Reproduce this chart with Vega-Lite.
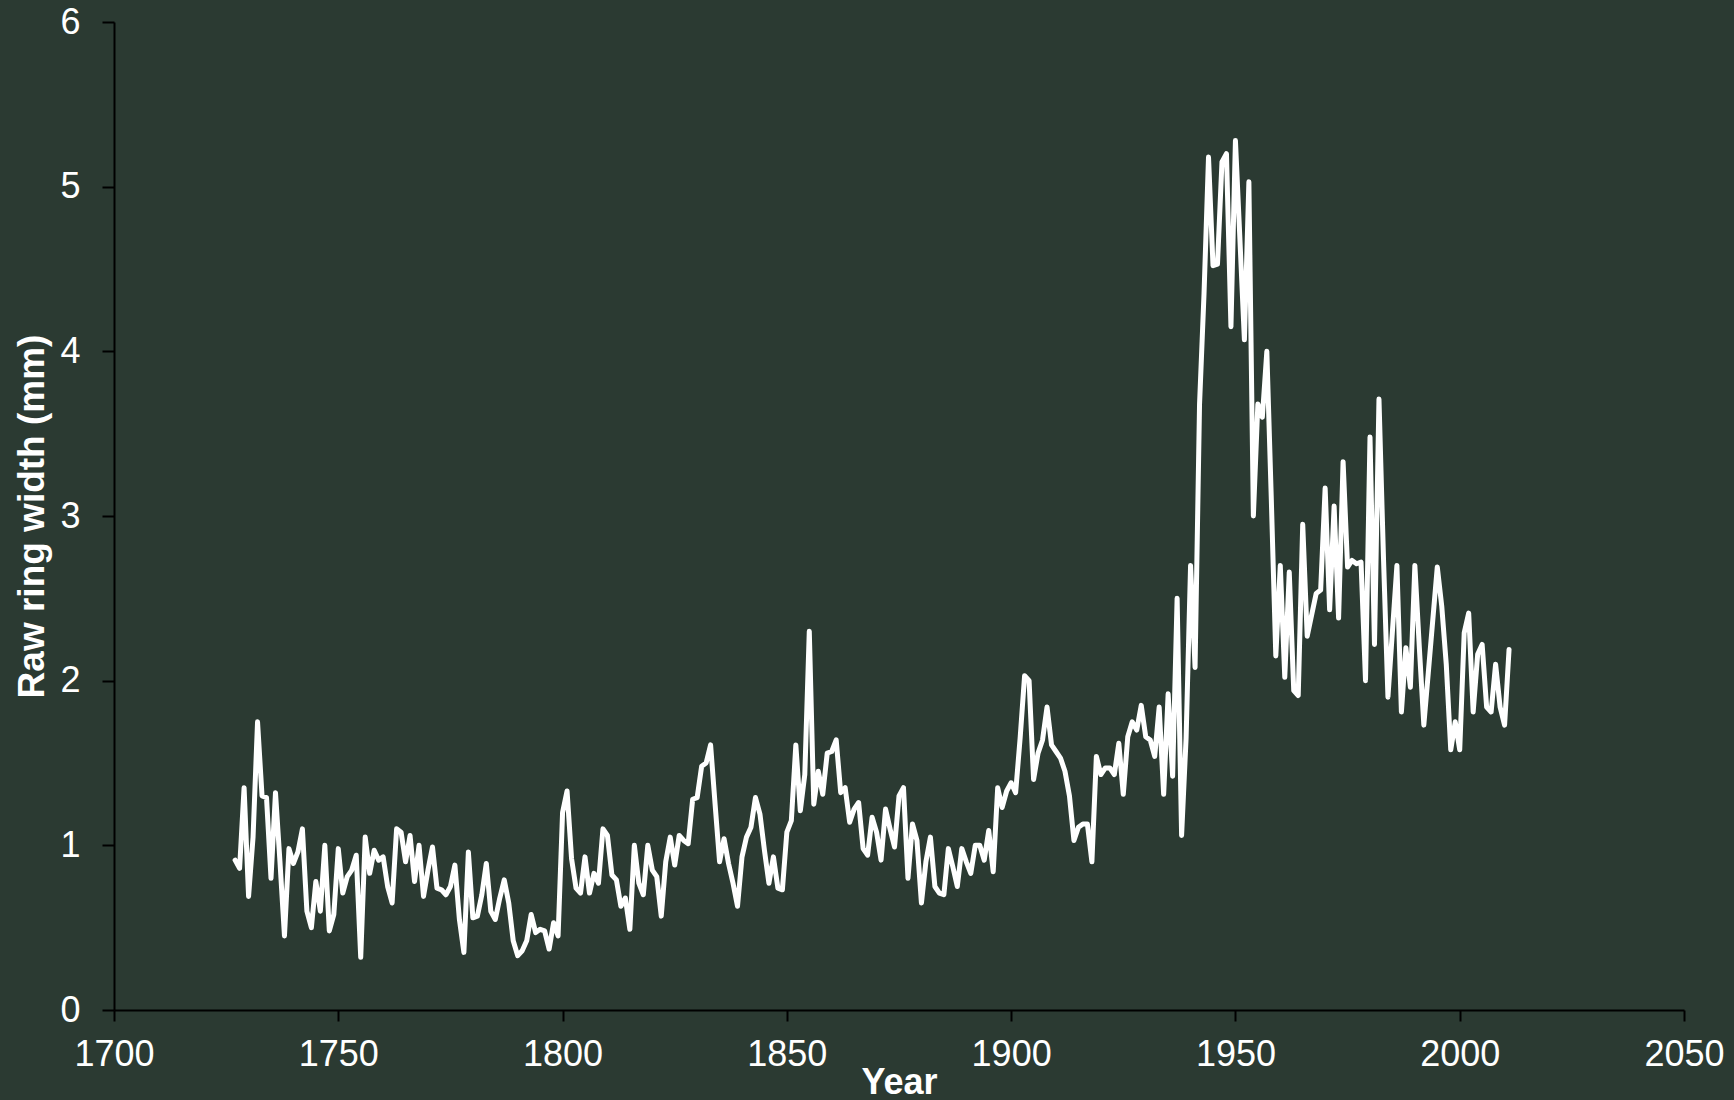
{
  "$schema": "https://vega.github.io/schema/vega-lite/v6.json",
  "width": 1570,
  "height": 988,
  "autosize": {"type": "none"},
  "padding": {"left": 114, "top": 22, "right": 50, "bottom": 90},
  "background": "#2b3a32",
  "config": {
    "view": {"stroke": null},
    "font": "Liberation Sans",
    "axis": {
      "grid": false,
      "domainColor": "#000000",
      "domainWidth": 2,
      "tickColor": "#000000",
      "tickWidth": 2,
      "labelColor": "#ffffff",
      "titleColor": "#ffffff",
      "labelFont": "Liberation Sans",
      "titleFont": "Liberation Sans",
      "labelFontSize": 36,
      "titleFontSize": 36,
      "titleFontWeight": "bold"
    }
  },
  "data": {
    "values": [
      {"Year": 1727, "RingWidth": 0.91}, {"Year": 1728, "RingWidth": 0.86}, {"Year": 1729, "RingWidth": 1.35}, {"Year": 1730, "RingWidth": 0.69},
      {"Year": 1731, "RingWidth": 1.05}, {"Year": 1732, "RingWidth": 1.75}, {"Year": 1733, "RingWidth": 1.30}, {"Year": 1734, "RingWidth": 1.29},
      {"Year": 1735, "RingWidth": 0.80}, {"Year": 1736, "RingWidth": 1.32}, {"Year": 1737, "RingWidth": 0.90}, {"Year": 1738, "RingWidth": 0.45},
      {"Year": 1739, "RingWidth": 0.98}, {"Year": 1740, "RingWidth": 0.89}, {"Year": 1741, "RingWidth": 0.96}, {"Year": 1742, "RingWidth": 1.10},
      {"Year": 1743, "RingWidth": 0.60}, {"Year": 1744, "RingWidth": 0.50}, {"Year": 1745, "RingWidth": 0.78}, {"Year": 1746, "RingWidth": 0.60},
      {"Year": 1747, "RingWidth": 1.00}, {"Year": 1748, "RingWidth": 0.48}, {"Year": 1749, "RingWidth": 0.58}, {"Year": 1750, "RingWidth": 0.98},
      {"Year": 1751, "RingWidth": 0.71}, {"Year": 1752, "RingWidth": 0.81}, {"Year": 1753, "RingWidth": 0.85}, {"Year": 1754, "RingWidth": 0.94},
      {"Year": 1755, "RingWidth": 0.32}, {"Year": 1756, "RingWidth": 1.05}, {"Year": 1757, "RingWidth": 0.83}, {"Year": 1758, "RingWidth": 0.97},
      {"Year": 1759, "RingWidth": 0.91}, {"Year": 1760, "RingWidth": 0.93}, {"Year": 1761, "RingWidth": 0.75}, {"Year": 1762, "RingWidth": 0.65},
      {"Year": 1763, "RingWidth": 1.10}, {"Year": 1764, "RingWidth": 1.08}, {"Year": 1765, "RingWidth": 0.90}, {"Year": 1766, "RingWidth": 1.06},
      {"Year": 1767, "RingWidth": 0.78}, {"Year": 1768, "RingWidth": 1.00}, {"Year": 1769, "RingWidth": 0.69}, {"Year": 1770, "RingWidth": 0.85},
      {"Year": 1771, "RingWidth": 0.99}, {"Year": 1772, "RingWidth": 0.74}, {"Year": 1773, "RingWidth": 0.73}, {"Year": 1774, "RingWidth": 0.70},
      {"Year": 1775, "RingWidth": 0.75}, {"Year": 1776, "RingWidth": 0.88}, {"Year": 1777, "RingWidth": 0.55}, {"Year": 1778, "RingWidth": 0.35},
      {"Year": 1779, "RingWidth": 0.96}, {"Year": 1780, "RingWidth": 0.56}, {"Year": 1781, "RingWidth": 0.57}, {"Year": 1782, "RingWidth": 0.70},
      {"Year": 1783, "RingWidth": 0.89}, {"Year": 1784, "RingWidth": 0.60}, {"Year": 1785, "RingWidth": 0.55}, {"Year": 1786, "RingWidth": 0.68},
      {"Year": 1787, "RingWidth": 0.79}, {"Year": 1788, "RingWidth": 0.65}, {"Year": 1789, "RingWidth": 0.42}, {"Year": 1790, "RingWidth": 0.33},
      {"Year": 1791, "RingWidth": 0.36}, {"Year": 1792, "RingWidth": 0.42}, {"Year": 1793, "RingWidth": 0.58}, {"Year": 1794, "RingWidth": 0.47},
      {"Year": 1795, "RingWidth": 0.49}, {"Year": 1796, "RingWidth": 0.48}, {"Year": 1797, "RingWidth": 0.37}, {"Year": 1798, "RingWidth": 0.53},
      {"Year": 1799, "RingWidth": 0.45}, {"Year": 1800, "RingWidth": 1.20}, {"Year": 1801, "RingWidth": 1.33}, {"Year": 1802, "RingWidth": 0.92},
      {"Year": 1803, "RingWidth": 0.74}, {"Year": 1804, "RingWidth": 0.71}, {"Year": 1805, "RingWidth": 0.93}, {"Year": 1806, "RingWidth": 0.71},
      {"Year": 1807, "RingWidth": 0.83}, {"Year": 1808, "RingWidth": 0.77}, {"Year": 1809, "RingWidth": 1.10}, {"Year": 1810, "RingWidth": 1.06},
      {"Year": 1811, "RingWidth": 0.82}, {"Year": 1812, "RingWidth": 0.79}, {"Year": 1813, "RingWidth": 0.63}, {"Year": 1814, "RingWidth": 0.68},
      {"Year": 1815, "RingWidth": 0.49}, {"Year": 1816, "RingWidth": 1.00}, {"Year": 1817, "RingWidth": 0.77}, {"Year": 1818, "RingWidth": 0.70},
      {"Year": 1819, "RingWidth": 1.00}, {"Year": 1820, "RingWidth": 0.85}, {"Year": 1821, "RingWidth": 0.81}, {"Year": 1822, "RingWidth": 0.57},
      {"Year": 1823, "RingWidth": 0.90}, {"Year": 1824, "RingWidth": 1.05}, {"Year": 1825, "RingWidth": 0.88}, {"Year": 1826, "RingWidth": 1.06},
      {"Year": 1827, "RingWidth": 1.03}, {"Year": 1828, "RingWidth": 1.01}, {"Year": 1829, "RingWidth": 1.28}, {"Year": 1830, "RingWidth": 1.29},
      {"Year": 1831, "RingWidth": 1.48}, {"Year": 1832, "RingWidth": 1.50}, {"Year": 1833, "RingWidth": 1.61}, {"Year": 1834, "RingWidth": 1.25},
      {"Year": 1835, "RingWidth": 0.90}, {"Year": 1836, "RingWidth": 1.04}, {"Year": 1837, "RingWidth": 0.89}, {"Year": 1838, "RingWidth": 0.77},
      {"Year": 1839, "RingWidth": 0.63}, {"Year": 1840, "RingWidth": 0.93}, {"Year": 1841, "RingWidth": 1.05}, {"Year": 1842, "RingWidth": 1.11},
      {"Year": 1843, "RingWidth": 1.29}, {"Year": 1844, "RingWidth": 1.19}, {"Year": 1845, "RingWidth": 0.97}, {"Year": 1846, "RingWidth": 0.77},
      {"Year": 1847, "RingWidth": 0.93}, {"Year": 1848, "RingWidth": 0.74}, {"Year": 1849, "RingWidth": 0.73}, {"Year": 1850, "RingWidth": 1.08},
      {"Year": 1851, "RingWidth": 1.15}, {"Year": 1852, "RingWidth": 1.61}, {"Year": 1853, "RingWidth": 1.21}, {"Year": 1854, "RingWidth": 1.43},
      {"Year": 1855, "RingWidth": 2.30}, {"Year": 1856, "RingWidth": 1.25}, {"Year": 1857, "RingWidth": 1.45}, {"Year": 1858, "RingWidth": 1.31},
      {"Year": 1859, "RingWidth": 1.56}, {"Year": 1860, "RingWidth": 1.57}, {"Year": 1861, "RingWidth": 1.64}, {"Year": 1862, "RingWidth": 1.32},
      {"Year": 1863, "RingWidth": 1.35}, {"Year": 1864, "RingWidth": 1.14}, {"Year": 1865, "RingWidth": 1.22}, {"Year": 1866, "RingWidth": 1.26},
      {"Year": 1867, "RingWidth": 0.98}, {"Year": 1868, "RingWidth": 0.94}, {"Year": 1869, "RingWidth": 1.17}, {"Year": 1870, "RingWidth": 1.08},
      {"Year": 1871, "RingWidth": 0.91}, {"Year": 1872, "RingWidth": 1.22}, {"Year": 1873, "RingWidth": 1.10}, {"Year": 1874, "RingWidth": 0.99},
      {"Year": 1875, "RingWidth": 1.30}, {"Year": 1876, "RingWidth": 1.35}, {"Year": 1877, "RingWidth": 0.80}, {"Year": 1878, "RingWidth": 1.13},
      {"Year": 1879, "RingWidth": 1.03}, {"Year": 1880, "RingWidth": 0.65}, {"Year": 1881, "RingWidth": 0.90}, {"Year": 1882, "RingWidth": 1.05},
      {"Year": 1883, "RingWidth": 0.75}, {"Year": 1884, "RingWidth": 0.71}, {"Year": 1885, "RingWidth": 0.70}, {"Year": 1886, "RingWidth": 0.98},
      {"Year": 1887, "RingWidth": 0.87}, {"Year": 1888, "RingWidth": 0.75}, {"Year": 1889, "RingWidth": 0.98}, {"Year": 1890, "RingWidth": 0.90},
      {"Year": 1891, "RingWidth": 0.83}, {"Year": 1892, "RingWidth": 1.00}, {"Year": 1893, "RingWidth": 1.00}, {"Year": 1894, "RingWidth": 0.91},
      {"Year": 1895, "RingWidth": 1.09}, {"Year": 1896, "RingWidth": 0.84}, {"Year": 1897, "RingWidth": 1.35}, {"Year": 1898, "RingWidth": 1.23},
      {"Year": 1899, "RingWidth": 1.33}, {"Year": 1900, "RingWidth": 1.38}, {"Year": 1901, "RingWidth": 1.32}, {"Year": 1902, "RingWidth": 1.65},
      {"Year": 1903, "RingWidth": 2.03}, {"Year": 1904, "RingWidth": 2.00}, {"Year": 1905, "RingWidth": 1.40}, {"Year": 1906, "RingWidth": 1.56},
      {"Year": 1907, "RingWidth": 1.64}, {"Year": 1908, "RingWidth": 1.84}, {"Year": 1909, "RingWidth": 1.61}, {"Year": 1910, "RingWidth": 1.57},
      {"Year": 1911, "RingWidth": 1.53}, {"Year": 1912, "RingWidth": 1.45}, {"Year": 1913, "RingWidth": 1.30}, {"Year": 1914, "RingWidth": 1.03},
      {"Year": 1915, "RingWidth": 1.11}, {"Year": 1916, "RingWidth": 1.13}, {"Year": 1917, "RingWidth": 1.13}, {"Year": 1918, "RingWidth": 0.90},
      {"Year": 1919, "RingWidth": 1.54}, {"Year": 1920, "RingWidth": 1.43}, {"Year": 1921, "RingWidth": 1.47}, {"Year": 1922, "RingWidth": 1.47},
      {"Year": 1923, "RingWidth": 1.43}, {"Year": 1924, "RingWidth": 1.62}, {"Year": 1925, "RingWidth": 1.31}, {"Year": 1926, "RingWidth": 1.66},
      {"Year": 1927, "RingWidth": 1.75}, {"Year": 1928, "RingWidth": 1.70}, {"Year": 1929, "RingWidth": 1.85}, {"Year": 1930, "RingWidth": 1.66},
      {"Year": 1931, "RingWidth": 1.64}, {"Year": 1932, "RingWidth": 1.54}, {"Year": 1933, "RingWidth": 1.84}, {"Year": 1934, "RingWidth": 1.31},
      {"Year": 1935, "RingWidth": 1.92}, {"Year": 1936, "RingWidth": 1.42}, {"Year": 1937, "RingWidth": 2.50}, {"Year": 1938, "RingWidth": 1.06},
      {"Year": 1939, "RingWidth": 1.65}, {"Year": 1940, "RingWidth": 2.70}, {"Year": 1941, "RingWidth": 2.08}, {"Year": 1942, "RingWidth": 3.68},
      {"Year": 1943, "RingWidth": 4.35}, {"Year": 1944, "RingWidth": 5.18}, {"Year": 1945, "RingWidth": 4.52}, {"Year": 1946, "RingWidth": 4.53},
      {"Year": 1947, "RingWidth": 5.15}, {"Year": 1948, "RingWidth": 5.20}, {"Year": 1949, "RingWidth": 4.15}, {"Year": 1950, "RingWidth": 5.28},
      {"Year": 1951, "RingWidth": 4.68}, {"Year": 1952, "RingWidth": 4.07}, {"Year": 1953, "RingWidth": 5.03}, {"Year": 1954, "RingWidth": 3.00},
      {"Year": 1955, "RingWidth": 3.68}, {"Year": 1956, "RingWidth": 3.60}, {"Year": 1957, "RingWidth": 4.00}, {"Year": 1958, "RingWidth": 3.10},
      {"Year": 1959, "RingWidth": 2.15}, {"Year": 1960, "RingWidth": 2.70}, {"Year": 1961, "RingWidth": 2.02}, {"Year": 1962, "RingWidth": 2.66},
      {"Year": 1963, "RingWidth": 1.94}, {"Year": 1964, "RingWidth": 1.91}, {"Year": 1965, "RingWidth": 2.95}, {"Year": 1966, "RingWidth": 2.27},
      {"Year": 1967, "RingWidth": 2.40}, {"Year": 1968, "RingWidth": 2.53}, {"Year": 1969, "RingWidth": 2.55}, {"Year": 1970, "RingWidth": 3.17},
      {"Year": 1971, "RingWidth": 2.43}, {"Year": 1972, "RingWidth": 3.06}, {"Year": 1973, "RingWidth": 2.38}, {"Year": 1974, "RingWidth": 3.33},
      {"Year": 1975, "RingWidth": 2.69}, {"Year": 1976, "RingWidth": 2.73}, {"Year": 1977, "RingWidth": 2.71}, {"Year": 1978, "RingWidth": 2.72},
      {"Year": 1979, "RingWidth": 2.00}, {"Year": 1980, "RingWidth": 3.48}, {"Year": 1981, "RingWidth": 2.22}, {"Year": 1982, "RingWidth": 3.71},
      {"Year": 1983, "RingWidth": 2.75}, {"Year": 1984, "RingWidth": 1.90}, {"Year": 1985, "RingWidth": 2.30}, {"Year": 1986, "RingWidth": 2.70},
      {"Year": 1987, "RingWidth": 1.81}, {"Year": 1988, "RingWidth": 2.20}, {"Year": 1989, "RingWidth": 1.96}, {"Year": 1990, "RingWidth": 2.70},
      {"Year": 1991, "RingWidth": 2.20}, {"Year": 1992, "RingWidth": 1.73}, {"Year": 1993, "RingWidth": 2.05}, {"Year": 1994, "RingWidth": 2.37},
      {"Year": 1995, "RingWidth": 2.69}, {"Year": 1996, "RingWidth": 2.45}, {"Year": 1997, "RingWidth": 2.10}, {"Year": 1998, "RingWidth": 1.58},
      {"Year": 1999, "RingWidth": 1.75}, {"Year": 2000, "RingWidth": 1.58}, {"Year": 2001, "RingWidth": 2.29}, {"Year": 2002, "RingWidth": 2.41},
      {"Year": 2003, "RingWidth": 1.81}, {"Year": 2004, "RingWidth": 2.16}, {"Year": 2005, "RingWidth": 2.22}, {"Year": 2006, "RingWidth": 1.84},
      {"Year": 2007, "RingWidth": 1.81}, {"Year": 2008, "RingWidth": 2.10}, {"Year": 2009, "RingWidth": 1.84}, {"Year": 2010, "RingWidth": 1.73},
      {"Year": 2011, "RingWidth": 2.19}
    ]
  },
  "mark": {"type": "line", "color": "#ffffff", "strokeWidth": 5, "strokeJoin": "round", "strokeCap": "round"},
  "encoding": {
    "x": {
      "field": "Year",
      "type": "quantitative",
      "scale": {"domain": [1700, 2050], "nice": false, "zero": false},
      "axis": {
        "title": "Year",
        "values": [1700, 1750, 1800, 1850, 1900, 1950, 2000, 2050],
        "format": "d",
        "tickSize": 11,
        "labelPadding": 16,
        "labelFlush": false,
        "labelOverlap": false,
        "titleX": 785,
        "titleY": 72,
        "titleAlign": "center",
        "titleBaseline": "middle"
      }
    },
    "y": {
      "field": "RingWidth",
      "type": "quantitative",
      "scale": {"domain": [0, 6], "nice": false},
      "axis": {
        "title": "Raw ring width (mm)",
        "titleFontSize": 37,
        "values": [0, 1, 2, 3, 4, 5, 6],
        "tickSize": 12,
        "labelPadding": 22,
        "labelFlush": false,
        "labelOverlap": false,
        "titleX": -82,
        "titleY": 494,
        "titleAngle": 270,
        "titleAlign": "center",
        "titleBaseline": "middle"
      }
    }
  }
}
